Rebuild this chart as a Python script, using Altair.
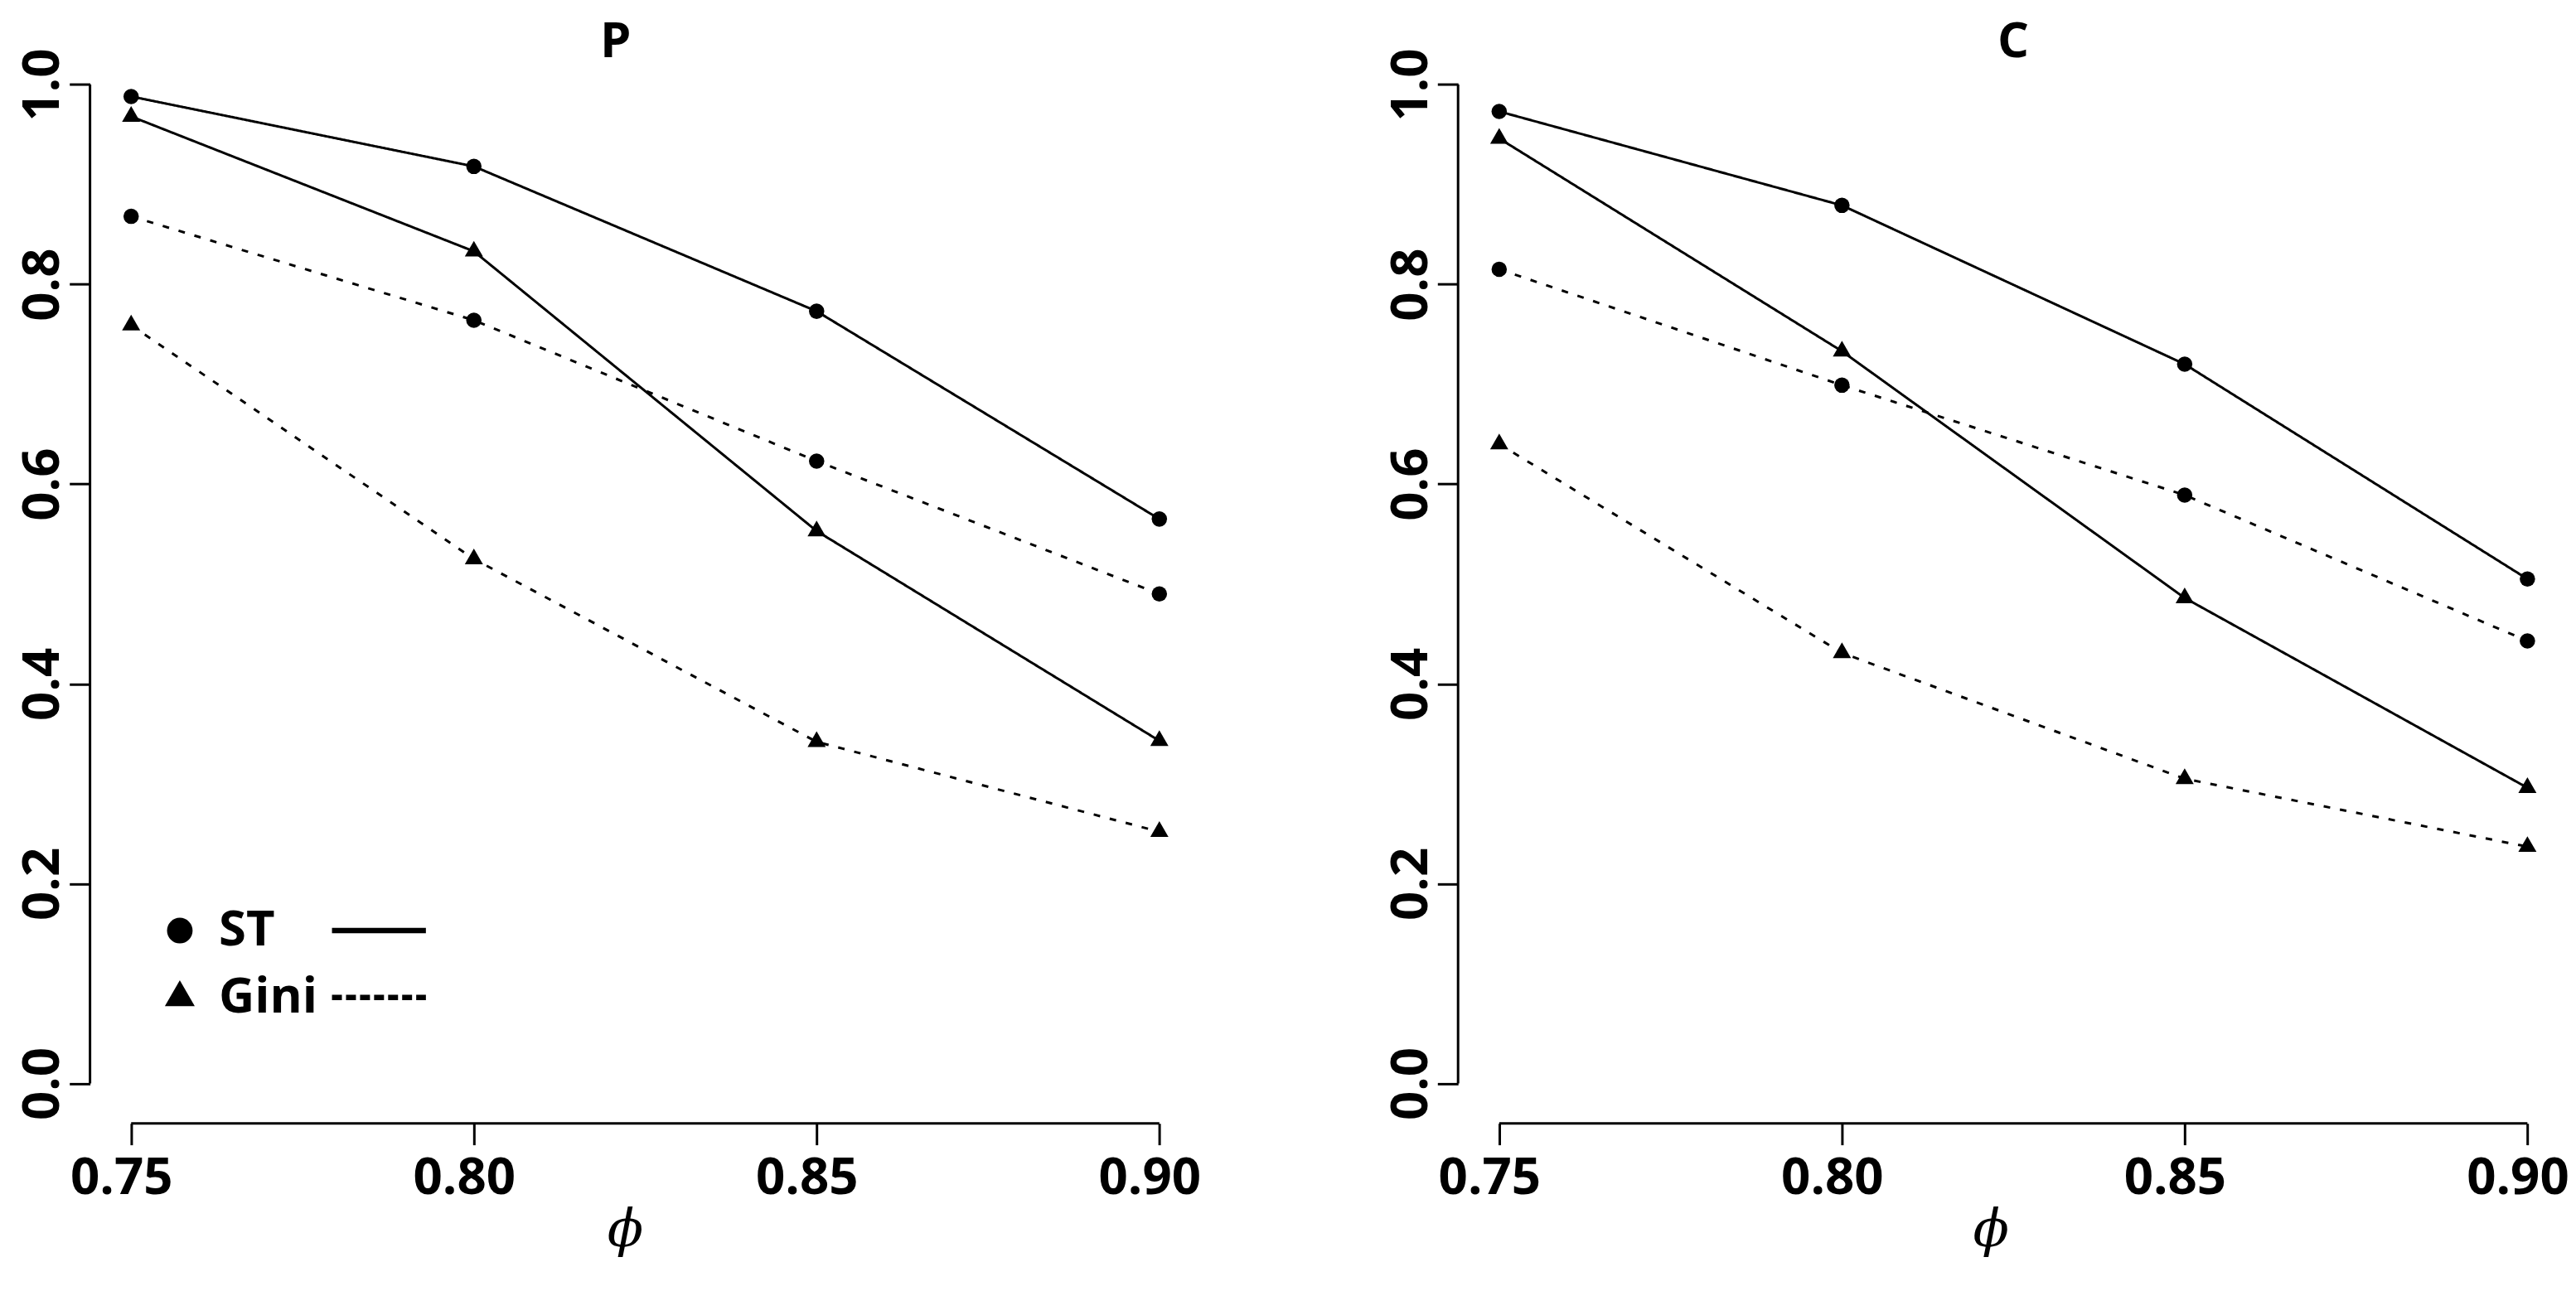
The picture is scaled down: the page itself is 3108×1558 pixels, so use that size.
import altair as alt
import pandas as pd

# ---------------- data ----------------
phi = [0.75, 0.80, 0.85, 0.90]

panel_names = ["P", "C"]
methods = ["ST", "Gini"]
line_styles = ["solid", "dashed"]

# panel P
P_st_solid = [0.988, 0.918, 0.773, 0.565]
P_gini_solid = [0.968, 0.833, 0.553, 0.343]
P_st_dashed = [0.868, 0.764, 0.623, 0.490]
P_gini_dashed = [0.759, 0.525, 0.342, 0.252]

# panel C
C_st_solid = [0.973, 0.879, 0.720, 0.505]
C_gini_solid = [0.946, 0.733, 0.486, 0.296]
C_st_dashed = [0.815, 0.699, 0.589, 0.443]
C_gini_dashed = [0.640, 0.431, 0.305, 0.237]

y_ticks = [0.0, 0.2, 0.4, 0.6, 0.8, 1.0]

# legend (inside panel P), in data units
legend_labels = ["ST", "Gini"]
legend_y = [0.153, 0.086]
legend_marker_x = 0.7571
legend_text_x = 0.7628
legend_line_x = [0.7793, 0.7930]

series = {
    "P": [("ST", "solid", P_st_solid), ("Gini", "solid", P_gini_solid),
          ("ST", "dashed", P_st_dashed), ("Gini", "dashed", P_gini_dashed)],
    "C": [("ST", "solid", C_st_solid), ("Gini", "solid", C_gini_solid),
          ("ST", "dashed", C_st_dashed), ("Gini", "dashed", C_gini_dashed)],
}

rows = []
for pn in panel_names:
    for m, st, vals in series[pn]:
        for x, v in zip(phi, vals):
            rows.append({"panel": pn, "phi": x, "value": v, "method": m,
                         "style": st, "series": f"{m}-{st}"})
df = pd.DataFrame(rows)

# R-like 4% padding of axis ranges
xpad = (max(phi) - min(phi)) * 0.04
ypad = (max(y_ticks) - min(y_ticks)) * 0.04
XDOM = [min(phi) - xpad, max(phi) + xpad]
YDOM = [min(y_ticks) - ypad, max(y_ticks) + ypad]

TRI = "M0,-1L0.866,0.5L-0.866,0.5Z"
FONT = "Open Sans"
W, H = 1345, 1307


def make_panel(name, title_dx, axis_title_x, legend=False):
    d = df[df.panel == name]
    xenc = alt.X("phi:Q",
                 scale=alt.Scale(domain=XDOM, nice=False, zero=False),
                 axis=alt.Axis(values=phi, format=".2f", title="ϕ",
                               domain=False, grid=False,
                               tickSize=26, tickWidth=3, tickColor="black",
                               labelFont=FONT, labelFontWeight="bold",
                               labelFontSize=62, labelColor="black",
                               labelPadding=10, labelOffset=-12,
                               titleFont="DejaVu Serif", titleFontStyle="italic",
                               titleFontWeight="normal", titleFontSize=64,
                               titleColor="black", titlePadding=0,
                               titleX=axis_title_x))
    yenc = alt.Y("value:Q",
                 scale=alt.Scale(domain=YDOM, nice=False, zero=False),
                 axis=alt.Axis(values=y_ticks, format=".1f", title=None,
                               domain=False, grid=False,
                               tickSize=25, tickWidth=3, tickColor="black",
                               labelAngle=270, labelAlign="center",
                               labelBaseline="alphabetic", labelPadding=13,
                               labelFont=FONT, labelFontWeight="bold",
                               labelFontSize=62, labelColor="black"))

    base = alt.Chart(d)
    lines = base.mark_line(color="black", strokeWidth=3).encode(
        x=xenc, y=yenc, detail="series:N",
        strokeDash=alt.StrokeDash("style:N",
                                  scale=alt.Scale(domain=line_styles,
                                                  range=[[1, 0], [8, 12]]),
                                  legend=None))
    circ = base.transform_filter(alt.datum.method == "ST").mark_point(
        filled=True, shape="circle", size=346, color="black", opacity=1,
        strokeWidth=0).encode(x="phi:Q", y="value:Q")
    tri = base.transform_filter(alt.datum.method == "Gini").mark_point(
        filled=True, shape=TRI, size=645, color="black", opacity=1,
        strokeWidth=0).encode(x="phi:Q", y="value:Q")

    axdf = pd.DataFrame({"x1": [min(phi)], "x2": [max(phi)],
                         "y1": [min(y_ticks)], "y2": [max(y_ticks)],
                         "xa": [XDOM[0]], "ya": [YDOM[0]]})
    xaxis = alt.Chart(axdf).mark_rule(color="black", strokeWidth=3).encode(
        x="x1:Q", x2="x2:Q", y="ya:Q")
    yaxis = alt.Chart(axdf).mark_rule(color="black", strokeWidth=3).encode(
        x="xa:Q", y="y1:Q", y2="y2:Q")

    layers = [xaxis, yaxis, lines, circ, tri]

    if legend:
        ldf = pd.DataFrame({"label": legend_labels, "y": legend_y,
                            "mx": [legend_marker_x] * 2,
                            "tx": [legend_text_x] * 2,
                            "lx1": [legend_line_x[0]] * 2,
                            "lx2": [legend_line_x[1]] * 2,
                            "style": line_styles})
        lb = alt.Chart(ldf)
        l_circ = lb.transform_filter(alt.datum.label == "ST").mark_point(
            filled=True, shape="circle", size=960, color="black", opacity=1,
            strokeWidth=0).encode(x="mx:Q", y="y:Q")
        l_tri = lb.transform_filter(alt.datum.label == "Gini").mark_point(
            filled=True, shape=TRI, size=1750, color="black", opacity=1,
            strokeWidth=0).encode(x="mx:Q", y="y:Q")
        l_text = lb.mark_text(align="left", baseline="middle", font=FONT,
                              fontWeight="bold", fontSize=60,
                              color="black").encode(
            x="tx:Q", y="y:Q", text="label:N")
        l_solid = lb.transform_filter(alt.datum.style == "solid").mark_rule(
            color="black", strokeWidth=6.5).encode(x="lx1:Q", x2="lx2:Q", y="y:Q")
        l_dash = lb.transform_filter(alt.datum.style == "dashed").mark_rule(
            color="black", strokeWidth=6.5, strokeDash=[12, 5]).encode(
            x="lx1:Q", x2="lx2:Q", y="y:Q")
        layers += [l_circ, l_tri, l_text, l_solid, l_dash]

    return alt.layer(*layers).properties(
        width=W, height=H,
        title=alt.TitleParams(text=name, font=FONT, fontWeight="bold",
                              fontSize=60, color="black", dx=title_dx,
                              offset=-28, anchor="middle"))


pP = make_panel("P", -36, 648, legend=True)
pC = make_panel("C", 0, 645)

chart = alt.hconcat(pP, pC, spacing=312, bounds="flush").configure(
    padding={"left": 12, "top": 10, "right": 0, "bottom": 0},
    background="white").configure_view(stroke=None, strokeWidth=0)

chart.save("out.html", embed_options={"renderer": "svg", "actions": False})
